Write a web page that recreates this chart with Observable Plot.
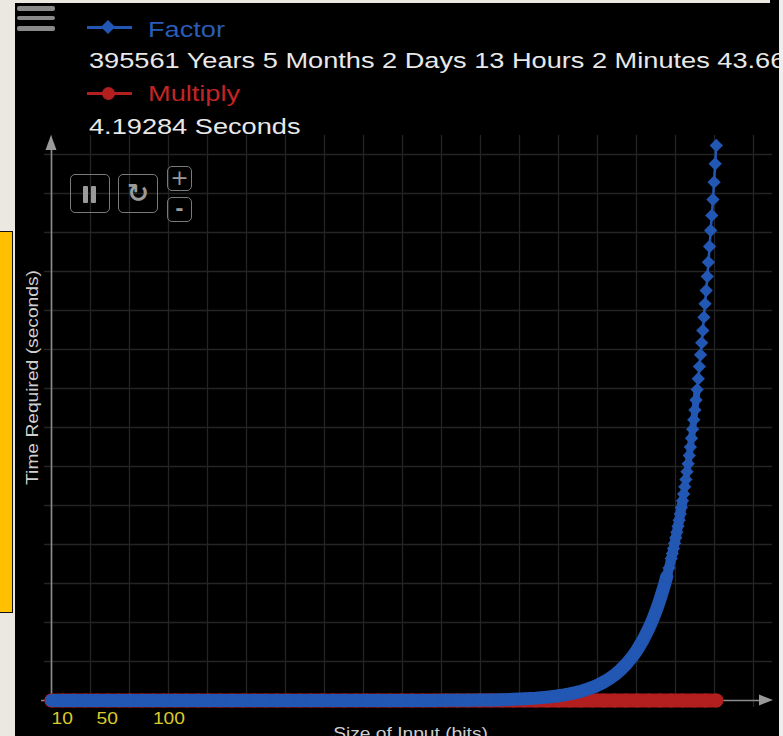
<!DOCTYPE html>
<html><head><meta charset="utf-8">
<script src="https://cdn.jsdelivr.net/npm/d3@7"></script>
<script src="https://cdn.jsdelivr.net/npm/@observablehq/plot@0.6"></script>
<style>
html,body{margin:0;padding:0;width:783px;height:736px;overflow:hidden;background:#ebe8e1;font-family:"Liberation Sans",Arial,sans-serif;}
#rightstrip{position:absolute;left:779px;top:0;width:4px;height:736px;background:#eeeeee;}
#topblack{position:absolute;left:770px;top:0;width:9px;height:4px;background:#000;}
#yellow{position:absolute;left:-2px;top:231px;width:13px;height:380px;background:#ffc000;border:1.5px solid #111;}
#panel{position:absolute;left:15px;top:3px;width:764px;height:733px;background:#000;overflow:hidden;}
#legend{position:relative;height:130px;}
.lt{position:absolute;font-size:22px;line-height:1;white-space:nowrap;transform-origin:0 0;transform:scaleX(1.235);}
.bar{position:absolute;left:2px;width:38px;height:4.5px;background:#8a8a8a;border-radius:2px;}
.btn{position:absolute;border:1.6px solid #7a7a7a;border-radius:5px;box-sizing:border-box;color:#9a9a9a;text-align:center;}
.pbar{position:absolute;top:11px;width:4.5px;height:17px;background:#9a9a9a;border-radius:1px;}
</style>
</head><body>
<div id="yellow"></div>
<div id="rightstrip"></div>
<div id="topblack"></div>
<div id="panel">
  <div id="legend">
    <div class="bar" style="top:3px"></div>
    <div class="bar" style="top:12.5px"></div>
    <div class="bar" style="top:23px"></div>
    <div style="position:absolute;left:72px;top:22.5px;width:45px;height:3px;background:#2257b3"></div>
    <div style="position:absolute;left:88.3px;top:19px;width:10px;height:10px;background:#2257b3;transform:rotate(45deg)"></div>
    <div class="lt" style="left:133px;top:16px;color:#2a5cb8">Factor</div>
    <div class="lt" style="left:74px;top:46.7px;color:#e8e8e8">395561 Years 5 Months 2 Days 13 Hours 2 Minutes 43.66</div>
    <div style="position:absolute;left:72px;top:89px;width:45px;height:3px;background:#b31e1e"></div>
    <div style="position:absolute;left:87px;top:84px;width:13px;height:13px;border-radius:50%;background:#b31e1e"></div>
    <div class="lt" style="left:133px;top:79.5px;color:#c22525">Multiply</div>
    <div class="lt" style="left:74px;top:113.4px;color:#e8e8e8">4.19284 Seconds</div>
  </div>
  <div id="chart"></div>
  <div class="btn" style="left:55px;top:171px;width:40px;height:39px;">
    <div class="pbar" style="left:12px"></div><div class="pbar" style="left:20px"></div>
  </div>
  <div class="btn" style="left:103px;top:171px;width:40px;height:39px;font-family:'DejaVu Sans';font-size:26px;line-height:37px;font-weight:bold;">&#x21BB;</div>
  <div class="btn" style="left:152px;top:163px;width:25px;height:25px;font-family:'DejaVu Sans';font-size:22px;line-height:22px;">+</div>
  <div class="btn" style="left:152px;top:194px;width:25px;height:25px;font-family:'DejaVu Sans';font-size:20px;line-height:21px;font-weight:bold;">-</div>
</div>
<script>
// ---- data ----
const factorBits = [10,20,30,40,50,60,70,80,90,100,110,120,130,140,150,160,170,180,190,200,210,220,230,240,250,260,270,280,290,300,310,320,330,340,
  350,360,370,380,390,400,410,420,430,440,
  450,455,460,465,470,475,480,485,490,495,500,505,510,515,520,525,530,535,
  540,542,544,546,548,550,552,554,556,558,
  560,561,562,563,564,565,566,567,568,569,570,571,572,573,574,575,576,577,578,579,580,
  581,582,583,584,585,586,587,588,589,590,591,592,593,594,595,596,597,598,599,600];
const factorYears = [0,0,0,0,0,0,0,0,0,0,0,0,0,0,0,0,0,0,0,0,0,0,0,0,0,0,0,0,0,0,0,0,0,0,
  80,110,160,220,310,430,610,860,1200,1700,
  2400,2800,3400,4000,4700,5600,6600,7900,9300,11000,13100,15500,18400,21800,25900,30700,36400,43200,
  51200,54800,58700,62800,67200,72000,77100,82500,88300,94500,
  101200,104700,108300,112100,116000,120000,124200,128500,132900,137500,142300,147200,152300,157600,163100,168700,174600,180600,186900,193400,200100,
  207000,214200,221600,229300,238000,246400,254900,263700,273200,282700,292200,302200,312400,323600,335000,345700,357100,369400,382500,395561];
const multiplyBits = [10,20,30,40,50,60,70,80,90,100,110,120,130,140,150,160,170,180,190,200,210,220,230,240,250,260,270,280,290,300,
  310,320,330,340,350,360,370,380,390,400,410,420,430,440,450,460,470,480,490,500,510,520,530,540,550,560,570,580,590,600];
const multiplySeconds = [0,0,0.01,0.02,0.03,0.04,0.06,0.07,0.09,0.12,0.14,0.17,0.2,0.23,0.26,0.3,0.34,0.38,0.42,0.47,0.51,0.56,0.62,0.67,0.73,0.79,0.85,0.91,0.98,1.05,
  1.12,1.19,1.27,1.35,1.43,1.51,1.59,1.68,1.77,1.86,1.96,2.05,2.15,2.25,2.36,2.46,2.57,2.68,2.8,2.91,3.03,3.15,3.27,3.4,3.52,3.65,3.78,3.92,4.05,4.19284];
const xTickLabels = [10, 50, 100];
const xLabel = "Size of Input (bits)";
const yLabel = "Time Required (seconds)";
const SECONDS_PER_YEAR = 31557600;

const factor = factorBits.map((b, i) => ({bits: b, seconds: factorYears[i] * SECONDS_PER_YEAR}));
const multiply = multiplyBits.map((b, i) => ({bits: b, seconds: multiplySeconds[i]}));

const xDomain = [10, 633];
const yMax = 389150 * SECONDS_PER_YEAR;
const xGrid = d3.range(19).map(i => xDomain[0] + i * (xDomain[1] - xDomain[0]) / 18);
const yGrid = d3.range(1, 15).map(i => i * yMax / 14);
const blue = "#2257b3", red = "#b31e1e";

const chart = Plot.plot({
  width: 764, height: 603,
  marginLeft: 36, marginRight: 26, marginTop: 21, marginBottom: 36,
  style: {background: "#000", fontFamily: "'Liberation Sans', Arial, sans-serif"},
  x: {domain: xDomain, axis: null},
  y: {domain: [0, yMax], axis: null},
  marks: [
    Plot.ruleX(xGrid, {stroke: "#242424", strokeWidth: 1.3, insetTop: -19, insetBottom: -7}),
    Plot.ruleY(yGrid, {stroke: "#242424", strokeWidth: 1.3, insetLeft: -7, insetRight: -19}),
    Plot.ruleX([xDomain[0]], {stroke: "#8d8d8d", strokeWidth: 1.6, insetTop: -5, insetBottom: -7}),
    Plot.ruleY([0], {stroke: "#8d8d8d", strokeWidth: 1.6, insetLeft: -10, insetRight: -8}),
    Plot.line(multiply, {x: "bits", y: "seconds", stroke: red, strokeWidth: 14}),
    Plot.dot(multiply, {x: "bits", y: "seconds", r: 7, fill: red, stroke: "none"}),
    Plot.line(factor.filter(d => d.bits <= 556), {x: "bits", y: "seconds", stroke: blue, strokeWidth: 13}),
    Plot.line(factor.filter(d => d.bits <= 570), {x: "bits", y: "seconds", stroke: blue, strokeWidth: 10}),
    Plot.line(factor.filter(d => d.bits <= 583), {x: "bits", y: "seconds", stroke: blue, strokeWidth: 7}),
    Plot.line(factor, {x: "bits", y: "seconds", stroke: blue, strokeWidth: 2.5}),
    Plot.dot(factor, {x: "bits", y: "seconds", symbol: "diamond2", r: 6, fill: blue, stroke: "none"}),
    Plot.text(xTickLabels, {x: d => d, frameAnchor: "bottom", textAnchor: "start", lineAnchor: "top", dy: 12, fill: "#dccb2a", fontSize: 16, className: "stretch"}),
    Plot.text([xLabel], {frameAnchor: "bottom", textAnchor: "middle", lineAnchor: "top", dy: 27, dx: 8, fill: "#cfcfcf", fontSize: 16, className: "stretch"}),
    Plot.text([yLabel], {frameAnchor: "left", textAnchor: "middle", rotate: -90, lineAnchor: "bottom", dx: -14, dy: -50, fill: "#cfcfcf", fontSize: 16, className: "stretch"})
  ]
});
document.getElementById("chart").appendChild(chart);

const svg = d3.select(chart);
svg.selectAll(".stretch text").each(function() {
  const L = this.getComputedTextLength();
  this.setAttribute("textLength", L * 1.2);
  this.setAttribute("lengthAdjust", "spacingAndGlyphs");
});
const sx = chart.scale("x"), sy = chart.scale("y");
const ax = sx.apply(xDomain[0]), ay = sy.apply(yMax);
const bx = sx.apply(xDomain[1]), by = sy.apply(0);
svg.append("path").attr("d", `M${ax},${ay - 19} l-5.5,15 h11 z`).attr("fill", "#9a9a9a");
svg.append("path").attr("d", `M${bx + 20},${by} l-14,-5.5 v11 z`).attr("fill", "#9a9a9a");
</script>
</body></html>
